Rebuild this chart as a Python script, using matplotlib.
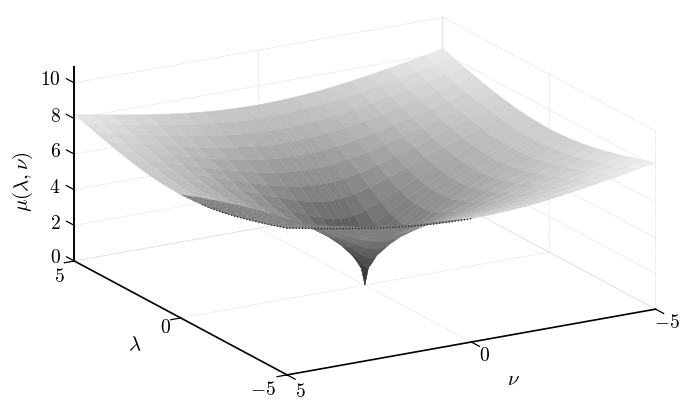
import numpy as np
import matplotlib
matplotlib.use('Agg')
import matplotlib.pyplot as plt
from matplotlib.colors import Normalize

plt.rcParams['mathtext.fontset'] = 'cm'
plt.rcParams['font.family'] = ['cmr10', 'DejaVu Serif']
plt.rcParams['axes.unicode_minus'] = False
plt.rcParams['axes.formatter.use_mathtext'] = True

# nodes of one quadrant, the surface is mirrored in both axes
grid_nodes = [0, 0.1, 0.3, 0.6, 1, 1.5, 2, 2.5, 3, 3.5, 4, 4.5, 5]
# heights, rows = |lambda|, columns = |nu|
mu_quadrant = [
    [0.00, 0.98, 1.70, 2.40, 3.10, 3.80, 4.38, 4.90, 5.37, 5.80, 6.20, 6.58, 6.93],
    [0.98, 1.17, 1.74, 2.42, 3.11, 3.80, 4.39, 4.90, 5.37, 5.80, 6.20, 6.58, 6.93],
    [1.70, 1.74, 2.02, 2.54, 3.17, 3.83, 4.41, 4.92, 5.38, 5.81, 6.21, 6.58, 6.94],
    [2.40, 2.42, 2.54, 2.86, 3.35, 3.94, 4.48, 4.97, 5.42, 5.84, 6.23, 6.61, 6.96],
    [3.10, 3.11, 3.17, 3.35, 3.69, 4.16, 4.64, 5.09, 5.51, 5.91, 6.29, 6.66, 7.00],
    [3.80, 3.80, 3.83, 3.94, 4.16, 4.52, 4.90, 5.29, 5.68, 6.05, 6.41, 6.75, 7.08],
    [4.38, 4.39, 4.41, 4.48, 4.64, 4.90, 5.21, 5.55, 5.89, 6.22, 6.56, 6.88, 7.19],
    [4.90, 4.90, 4.92, 4.97, 5.09, 5.29, 5.55, 5.83, 6.13, 6.43, 6.73, 7.03, 7.33],
    [5.37, 5.37, 5.38, 5.42, 5.51, 5.68, 5.89, 6.13, 6.39, 6.66, 6.93, 7.21, 7.49],
    [5.80, 5.80, 5.81, 5.84, 5.91, 6.05, 6.22, 6.43, 6.66, 6.90, 7.15, 7.40, 7.66],
    [6.20, 6.20, 6.21, 6.23, 6.29, 6.41, 6.56, 6.73, 6.93, 7.15, 7.37, 7.61, 7.84],
    [6.58, 6.58, 6.58, 6.61, 6.66, 6.75, 6.88, 7.03, 7.21, 7.40, 7.61, 7.82, 8.04],
    [6.93, 6.93, 6.94, 6.96, 7.00, 7.08, 7.19, 7.33, 7.49, 7.66, 7.84, 8.04, 8.24],
]
lam_ticks = [-5, 0, 5]
nu_ticks = [-5, 0, 5]
mu_ticks = [0, 2, 4, 6, 8, 10]


def px_text(x, y, s, size=14, **kw):
    # place text by reference pixel position
    fig.text(x / 685, 1 - y / 403, s, fontsize=size, ha='center', va='center', **kw)


nodes = np.array(grid_nodes)
axis_vals = np.concatenate([-nodes[:0:-1], nodes])
quad = np.array(mu_quadrant)
half = np.hstack([quad[:, :0:-1], quad])
mu = np.vstack([half[:0:-1], half])
lam_mesh, nu_mesh = np.meshgrid(axis_vals, axis_vals, indexing='ij')

fig = plt.figure(figsize=(6.85, 4.03), dpi=100)
ax = fig.add_axes([158 / 685, 0, 403 / 685, 1], projection='3d')
ax.set_proj_type('ortho')
ax.view_init(elev=18, azim=150)
ax.set_box_aspect((1, 1, 0.44), zoom=1.518)
ax.set_xlim(-5, 5, view_margin=0)
ax.set_ylim(-5, 5, view_margin=0)
ax.set_zlim(0, 10, view_margin=0)
ax.patch.set_alpha(0)
ax.computed_zorder = False

colors = plt.get_cmap('gray')(Normalize(-1.5, 9)(mu))
# the near quadrant is seen edge on, its dense mesh reads dark
near = (lam_mesh < 0) & (nu_mesh > 0) & (mu > 4)
colors[near, :3] = 0.5
surf = ax.plot_surface(lam_mesh, nu_mesh, mu, rstride=1, cstride=1, facecolors=colors,
                       shade=False, linewidth=0.2, antialiased=True, zorder=1)
surf.set_clip_on(False)

# near edges of the sheet show as a dark speckled fold
front = len(axis_vals) // 2
ax.plot(lam_mesh[0, front:], nu_mesh[0, front:], mu[0, front:], color='#1a1a1a',
        lw=0.9, ls=(0, (1, 1.5)), clip_on=False, zorder=2)
ax.plot(lam_mesh[:front // 2 + 3, -1], nu_mesh[:front // 2 + 3, -1], mu[:front // 2 + 3, -1],
        color='#1a1a1a', lw=0.9, ls=(0, (1, 1.5)), clip_on=False, zorder=2)

ax.set_xticks(lam_ticks, ['', '', ''])
ax.set_yticks(nu_ticks, ['', '', ''])
ax.set_zticks(mu_ticks, ['' for v in mu_ticks])

for axis in (ax.xaxis, ax.yaxis, ax.zaxis):
    axis.set_pane_color((1, 1, 1, 0))
    axis.pane.set_edgecolor((1, 1, 1, 0))
    axis.line.set_color('black')
    axis.line.set_linewidth(1.2)
    axis._axinfo['grid'].update(color='#c4c4c4', linewidth=0.5, linestyle=':')
    axis._axinfo['tick'].update(inward_factor=0, outward_factor=0,
                                linewidth={True: 0, False: 0})
ax.zaxis.line.set_color((1, 1, 1, 0))

# axis line and ticks by hand, mplot3d keeps the z axis on the other corner
ax.plot([5, 5], [5, 5], [0, 10.9], color='black', lw=1.4, clip_on=False, zorder=3)
for v in mu_ticks:
    ax.plot([5, 5.37], [5, 5], [v, v], color='black', lw=0.9, clip_on=False, zorder=3)
for v in lam_ticks:
    ax.plot([v, v], [5, 5.27], [0, 0], color='black', lw=0.9, clip_on=False, zorder=3)
for v in nu_ticks:
    ax.plot([-5, -5.38], [v, v], [0, 0], color='black', lw=0.9, clip_on=False, zorder=3)

for y, v in zip([258, 224, 188, 152, 117, 80], mu_ticks):
    px_text(50.5 if v == 10 else 55, y, f'${v}$')
for xy, v in zip([(263, 390), (165, 328), (59, 277)], lam_ticks):
    px_text(xy[0], xy[1], f'${v}$')
for xy, v in zip([(667, 323), (484, 356), (300, 392)], nu_ticks):
    px_text(xy[0], xy[1], f'${v}$')

px_text(23, 182, r'$\mu(\lambda,\nu)$', size=15, rotation=90)
px_text(135, 345, r'$\lambda$', size=15)
px_text(513, 380, r'$\nu$', size=15)

fig.savefig('out.png', dpi=100)
plt.close(fig)
